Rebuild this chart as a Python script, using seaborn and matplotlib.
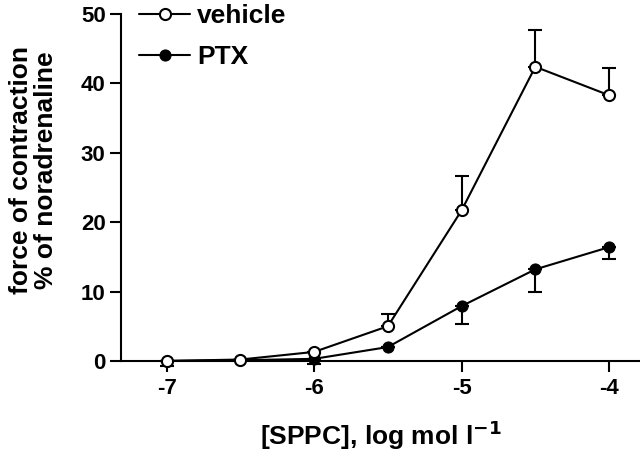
import numpy as np
import pandas as pd
import matplotlib
matplotlib.use('Agg')
import matplotlib.pyplot as plt
import seaborn as sns

# concentrations (log mol/l)
conc = [-7, -6.5, -6, -5.5, -5, -4.5, -4]

# vehicle: mean and upward SEM
vehicle = [0.0, 0.2, 1.3, 5.0, 21.7, 42.4, 38.3]
vehicle_err = [0.0, 0.0, 0.0, 1.8, 4.9, 5.3, 3.9]

# PTX: mean and downward SEM
ptx = [0.0, 0.1, 0.3, 2.0, 7.9, 13.2, 16.4]
ptx_err = [0.7, 0.0, 0.8, 0.0, 2.6, 3.3, 1.7]

xticks = [-7, -6, -5, -4]
yticks = [0, 10, 20, 30, 40, 50]

sns.set_style('ticks')
plt.rcParams['font.family'] = ['Liberation Sans', 'DejaVu Sans']
plt.rcParams['font.weight'] = 'bold'
plt.rcParams['text.color'] = 'black'
plt.rcParams['axes.labelcolor'] = 'black'
plt.rcParams['xtick.color'] = 'black'
plt.rcParams['ytick.color'] = 'black'

df = pd.DataFrame({'conc': conc, 'vehicle': vehicle, 'ptx': ptx})

fig, ax = plt.subplots(figsize=(6.4, 4.54), dpi=100)
fig.subplots_adjust(left=0.189, right=1.0, bottom=0.205, top=0.969)

# error bars (one-sided)
ax.errorbar(conc, vehicle, yerr=[np.zeros(len(vehicle)), vehicle_err], fmt='none',
            ecolor='black', elinewidth=1.5, capsize=5, capthick=1.5, zorder=2,
            clip_on=False)
eb = ax.errorbar(conc, ptx, yerr=[ptx_err, np.zeros(len(ptx))], fmt='none',
                 ecolor='black', elinewidth=1.5, capsize=5, capthick=1.5, zorder=2)
for art in eb.lines[1] + eb.lines[2]:
    art.set_clip_on(False)

sns.lineplot(data=df, x='conc', y='ptx', ax=ax, color='black', lw=1.5,
             marker='o', markersize=8, markerfacecolor='black',
             markeredgecolor='black', label='PTX', zorder=3, clip_on=False)
sns.lineplot(data=df, x='conc', y='vehicle', ax=ax, color='black', lw=1.5,
             marker='o', markersize=8, markerfacecolor='white',
             markeredgecolor='black', markeredgewidth=1.5, label='vehicle',
             zorder=4, clip_on=False)

ax.set_xlim(-7.31, -3.79)
ax.set_ylim(0, 50)
ax.set_xticks(xticks)
ax.set_yticks(yticks)
ax.set_xticklabels([str(t) for t in xticks], fontsize=16, fontweight='bold')
ax.set_yticklabels([str(t) for t in yticks], fontsize=16, fontweight='bold')
ax.tick_params(axis='both', direction='out', width=1.5, length=8, color='black',
               labelcolor='black')
ax.tick_params(axis='x', pad=4)
ax.tick_params(axis='y', pad=3)

for s in ['top', 'right']:
    ax.spines[s].set_visible(False)
for s in ['left', 'bottom']:
    ax.spines[s].set_linewidth(1.5)
    ax.spines[s].set_color('black')

ax.set_xlabel('[SPPC], log mol l$^{\\mathbf{-1}}$', fontsize=19, fontweight='bold')
ax.xaxis.set_label_coords(0.5, -0.215)
ax.xaxis.label.set_va('center')
ax.set_ylabel('force of contraction\n% of noradrenaline', fontsize=19,
              fontweight='bold', linespacing=1.05)
ax.yaxis.set_label_coords(-0.168, 0.55)
ax.yaxis.label.set_va('center')

handles, labels = ax.get_legend_handles_labels()
order = [labels.index('vehicle'), labels.index('PTX')]
leg = ax.legend([handles[i] for i in order], [labels[i] for i in order],
                loc='upper left', bbox_to_anchor=(0.014, 1.059), frameon=False,
                borderaxespad=0, fontsize=19, handlelength=1.95,
                labelspacing=0.63, handletextpad=0.27)
for t in leg.get_texts():
    t.set_fontweight('bold')

fig.savefig('out.png', dpi=100)
